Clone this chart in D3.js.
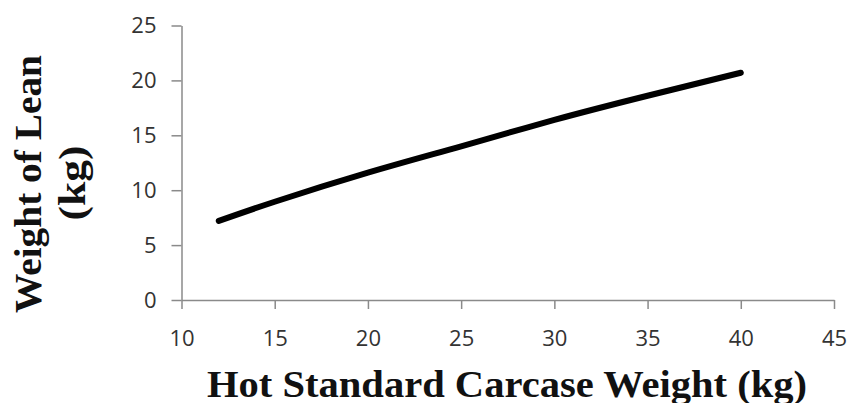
<!DOCTYPE html>
<html>
<head>
<meta charset="utf-8">
<script src="https://cdn.jsdelivr.net/npm/d3@7"></script>
<style>
  html, body { margin: 0; padding: 0; background: #fff; }
  svg { display: block; }
</style>
</head>
<body>
<svg id="chart" width="850" height="403"></svg>
<script>
const xValues = [12, 15, 20, 25, 30, 35, 40];
const leanValues = [7.2, 8.95, 11.6, 14.0, 16.4, 18.6, 20.7];
const xTicks = [10, 15, 20, 25, 30, 35, 40, 45];
const yTicks = [0, 5, 10, 15, 20, 25];
const xTitle = "Hot Standard Carcase Weight (kg)";
const yTitleLines = ["Weight of Lean", "(kg)"];

const svg = d3.select("#chart");
const x = d3.scaleLinear().domain([10, 45]).range([181.5, 834]);
const y = d3.scaleLinear().domain([0, 25]).range([300, 25.5]);

const axisColor = "#8a8a8a";
const tickFont = "'Open Sans', 'Liberation Sans', sans-serif";

// X axis
const gx = svg.append("g").attr("transform", `translate(0,${y(0)})`)
  .call(d3.axisBottom(x).tickValues(xTicks).tickSize(9).tickSizeOuter(0).tickPadding(21));
gx.select(".domain").attr("stroke", axisColor).attr("stroke-width", 1.5);
gx.selectAll(".tick line").attr("stroke", axisColor).attr("stroke-width", 1.5);
gx.selectAll(".tick text").attr("fill", "#333").style("font-family", tickFont).style("font-size", "22px");

// Y axis
const gy = svg.append("g").attr("transform", `translate(${x(10)},0)`)
  .call(d3.axisLeft(y).tickValues(yTicks).tickSize(10).tickSizeOuter(0).tickPadding(15));
gy.select(".domain").attr("stroke", axisColor).attr("stroke-width", 1.5);
gy.selectAll(".tick line").attr("stroke", axisColor).attr("stroke-width", 1.5);
gy.selectAll(".tick text").attr("fill", "#333").style("font-family", tickFont).style("font-size", "22px");

// Line
const line = d3.line().x((d, i) => x(xValues[i])).y(d => y(d)).curve(d3.curveNatural);
svg.append("path")
  .datum(leanValues)
  .attr("d", line)
  .attr("fill", "none")
  .attr("stroke", "#000")
  .attr("stroke-width", 6)
  .attr("stroke-linecap", "round");

// Titles
const serif = "'Liberation Serif', 'DejaVu Serif', serif";
svg.append("text")
  .attr("x", 207).attr("y", 397)
  .attr("textLength", 600).attr("lengthAdjust", "spacingAndGlyphs")
  .style("font-family", serif).style("font-weight", "bold").style("font-size", "38px")
  .attr("fill", "#111")
  .text(xTitle);

const yt = svg.append("g").attr("transform", "rotate(-90)");
yt.append("text")
  .attr("x", -184).attr("y", 41)
  .attr("text-anchor", "middle")
  .attr("textLength", 258).attr("lengthAdjust", "spacingAndGlyphs")
  .style("font-family", serif).style("font-weight", "bold").style("font-size", "37px")
  .attr("fill", "#111")
  .text(yTitleLines[0]);
yt.append("text")
  .attr("x", -183).attr("y", 85)
  .attr("text-anchor", "middle")
  .attr("textLength", 75).attr("lengthAdjust", "spacingAndGlyphs")
  .style("font-family", serif).style("font-weight", "bold").style("font-size", "37px")
  .attr("fill", "#111")
  .text(yTitleLines[1]);
</script>
</body>
</html>
